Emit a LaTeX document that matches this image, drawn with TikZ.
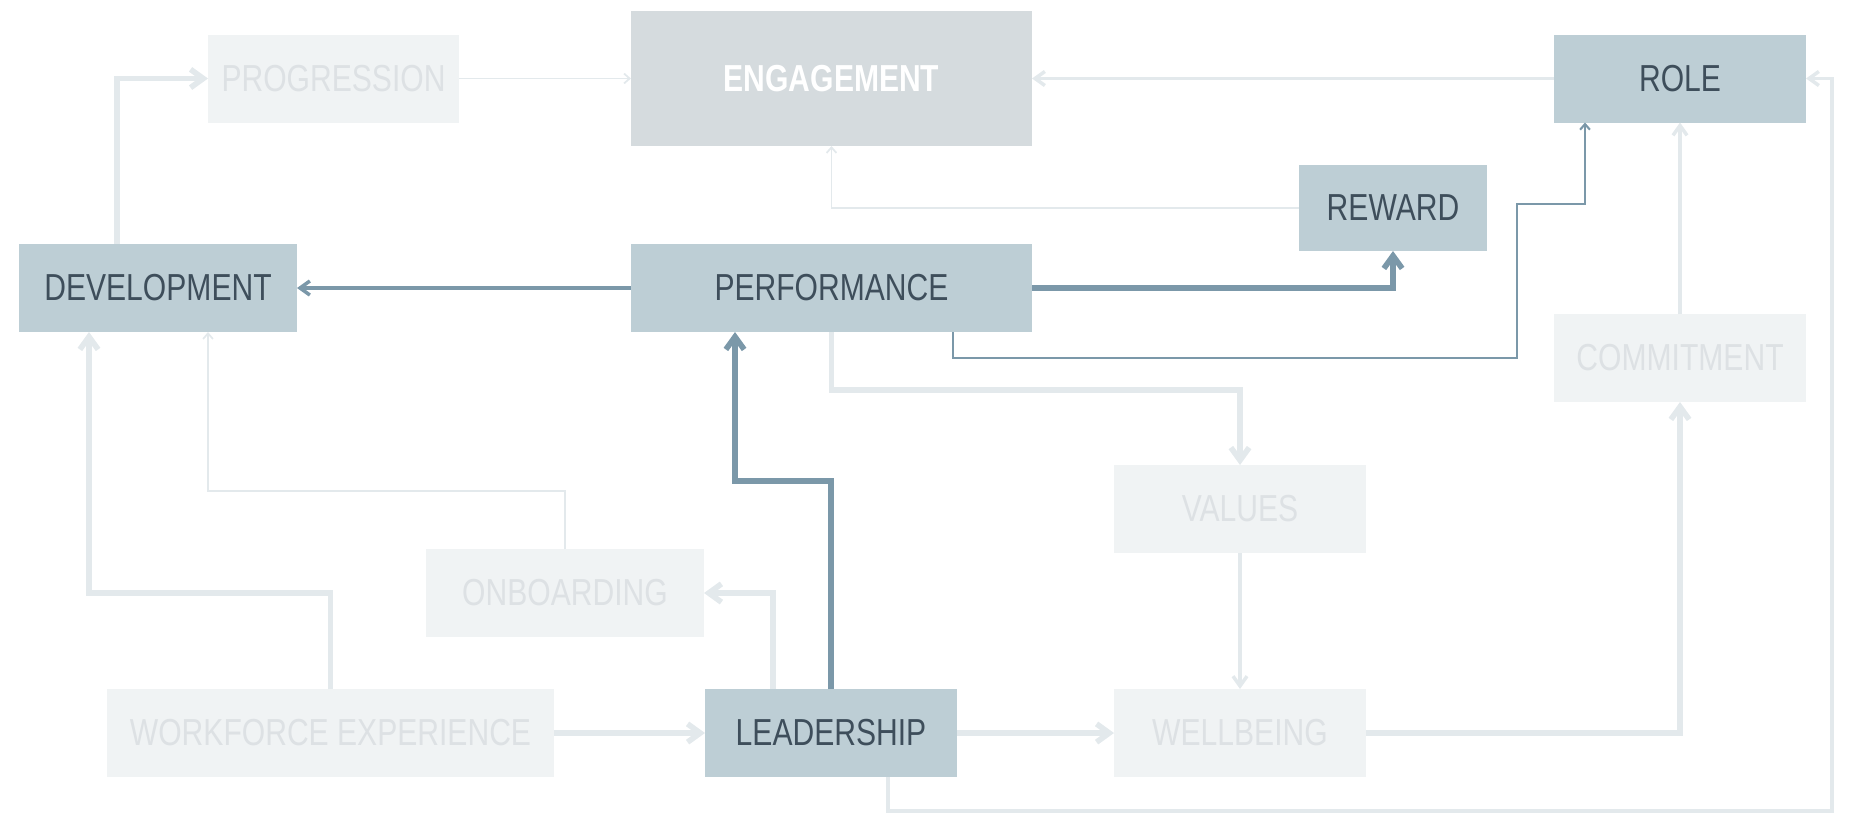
\documentclass[tikz,border=0pt]{standalone}
\usepackage{fontspec}
\setmainfont{Liberation Sans}[FakeStretch=0.8]
\usetikzlibrary{arrows.meta}
\definecolor{keyfill}{HTML}{BDCED5}
\definecolor{keytext}{HTML}{3E4E5B}
\definecolor{hubfill}{HTML}{D5DBDE}
\definecolor{faintfill}{HTML}{F0F3F4}
\definecolor{fainttext}{HTML}{DDE1E4}
\definecolor{keyline}{HTML}{7B98A9}
\definecolor{faintline}{HTML}{E3E9EC}
\tikzstyle{stage}=[minimum height=8.8mm, inner sep=0pt, outer sep=0pt, font=\fontsize{10.7}{12}\selectfont]
\tikzstyle{key stage}=[stage, fill=keyfill, text=keytext]
\tikzstyle{faint stage}=[stage, fill=faintfill, text=fainttext]
\tikzstyle{hub stage}=[stage, fill=hubfill, text=white, font=\fontsize{10.7}{12}\selectfont\bfseries]
\tikzstyle{thin link}=[line width=0.5pt, -{Straight Barb[length=1.6pt, width=2.8pt]}]
\tikzstyle{link}=[line width=1pt, -{Straight Barb[length=2.8pt, width=4pt]}]
\tikzstyle{thick link}=[line width=1.6pt, -{Straight Barb[length=3.6pt, width=5.2pt]}]

\begin{document}
\begin{tikzpicture}[x=0.1mm, y=-0.1mm]
      \useasboundingbox (0, 0) rectangle (1849, 813);
      \node[faint stage, minimum width=25.1mm] (prog) at (333.5, 78.5) {PROGRESSION};
      \node[hub stage, minimum width=40.1mm, minimum height=13.5mm] (eng) at (831.5, 78.5) {ENGAGEMENT};
      \node[key stage, minimum width=25.2mm] (role) at (1680, 78.5) {ROLE};
      \node[key stage, minimum width=18.8mm, minimum height=8.6mm] (rew) at (1393, 208) {REWARD};
      \node[key stage, minimum width=27.8mm] (dev) at (158, 288) {DEVELOPMENT};
      \node[key stage, minimum width=40.1mm] (perf) at (831.5, 288) {PERFORMANCE};
      \node[faint stage, minimum width=25.2mm] (comm) at (1680, 358) {COMMITMENT};
      \node[faint stage, minimum width=25.2mm] (vals) at (1240, 509) {VALUES};
      \node[faint stage, minimum width=27.8mm] (onb) at (565, 593) {ONBOARDING};
      \node[faint stage, minimum width=44.7mm] (work) at (330.5, 733) {WORKFORCE EXPERIENCE};
      \node[key stage, minimum width=25.2mm] (lead) at (831, 733) {LEADERSHIP};
      \node[faint stage, minimum width=25.2mm] (well) at (1240, 733) {WELLBEING};

      % faint links
      \draw[thick link, faintline] (117, 0 |- dev.north) |- (prog.west);
      \draw[thin link, faintline] (prog) -- (eng);
      \draw[link, faintline] (role) -- (eng);
      \draw[thin link, faintline] (rew.west) -| (eng.south);
      \draw[thick link, faintline] (perf.south) -- ++(0, 58) -| (vals.north);
      \draw[thick link, faintline] (773, 0 |- lead.north) |- (onb.east);
      \draw[thin link, faintline] (onb.north) -- ++(0, -58) -| (208, 0 |- dev.south);
      \draw[thick link, faintline] (work.north) -- ++(0, -96) -| (89, 0 |- dev.south);
      \draw[thick link, faintline] (work) -- (lead);
      \draw[thick link, faintline] (lead) -- (well);
      \draw[link, faintline] (vals) -- (well);
      \draw[thick link, faintline] (well.east) -| (comm.south);
      \draw[link, faintline] (comm) -- (role);
      \draw[link, faintline] (888, 0 |- lead.south) |- (1832, 811) |- (role.east);

      % key links
      \draw[link, keyline] (perf) -- (dev);
      \draw[thick link, keyline] (perf.east) -| (rew.south);
      \draw[thin link, keyline, line width=0.6pt] (953, 0 |- perf.south) |- (1517, 358) |- (1585, 204) -- (1585, 0 |- role.south);
      \draw[thick link, keyline] (lead.north) |- (735, 481) -- (735, 0 |- perf.south);
    \end{tikzpicture}
\end{document}
